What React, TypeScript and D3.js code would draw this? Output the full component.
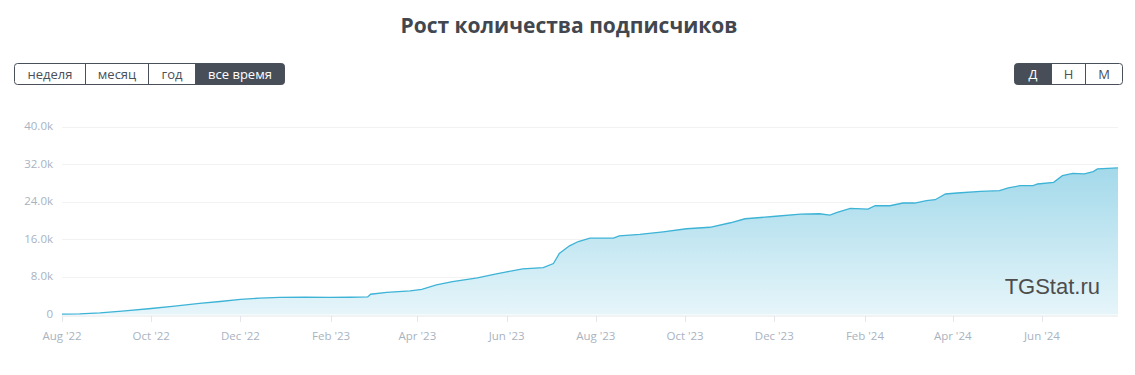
import { useEffect, useRef } from 'react';
import * as d3 from 'd3';

const DATES = [
  '2022-08-01', '2022-08-13', '2022-08-27', '2022-09-13', '2022-10-01', '2022-10-17', '2022-11-03',
  '2022-11-17', '2022-12-01', '2022-12-14', '2022-12-28', '2023-01-14', '2023-01-31', '2023-02-14',
  '2023-02-26', '2023-02-28', '2023-03-11', '2023-03-27', '2023-04-04', '2023-04-14', '2023-04-25',
  '2023-05-12', '2023-05-25', '2023-06-01', '2023-06-12', '2023-06-26', '2023-07-03', '2023-07-07',
  '2023-07-14', '2023-07-20', '2023-07-28', '2023-08-13', '2023-08-17', '2023-08-31', '2023-09-16',
  '2023-10-02', '2023-10-18', '2023-11-01', '2023-11-11', '2023-12-02', '2023-12-19', '2024-01-01',
  '2024-01-08', '2024-01-13', '2024-01-22', '2024-02-03', '2024-02-08', '2024-02-18', '2024-02-27',
  '2024-03-06', '2024-03-14', '2024-03-20', '2024-03-27', '2024-04-04', '2024-04-20', '2024-05-03',
  '2024-05-09', '2024-05-17', '2024-05-26', '2024-05-29', '2024-06-09', '2024-06-15', '2024-06-22',
  '2024-06-30', '2024-07-06', '2024-07-09', '2024-07-23',
];
const SUBSCRIBERS = [
  100, 150, 360, 750, 1280, 1800, 2350,
  2770, 3200, 3480, 3630, 3670, 3650, 3670,
  3730, 4310, 4690, 5010, 5330, 6290, 7000,
  7790, 8640, 9070, 9710, 9980, 10840, 12970,
  14610, 15530, 16250, 16250, 16740, 17060, 17600,
  18240, 18560, 19520, 20370, 20900, 21370, 21440,
  21160, 21710, 22570, 22440, 23140, 23140, 23720,
  23720, 24210, 24420, 25640, 25850, 26190, 26340,
  26920, 27410, 27410, 27770, 28110, 29540, 30030,
  29900, 30400, 30970, 31190,
];
const Y_TICKS = [0, 8000, 16000, 24000, 32000, 40000];
const X_TICKS = [
  '2022-08-01', '2022-10-01', '2022-12-01', '2023-02-01', '2023-04-01', '2023-06-01',
  '2023-08-01', '2023-10-01', '2023-12-01', '2024-02-01', '2024-04-01', '2024-06-01',
];
const PERIODS = ['неделя', 'месяц', 'год', 'все время'];
const GROUPINGS = ['Д', 'Н', 'М'];

const W = 1135;
const H = 375;
const FONT = '"Open Sans", Lato, sans-serif';

export default function App() {
  const svgRef = useRef<SVGSVGElement>(null);

  useEffect(() => {
    const svg = d3.select(svgRef.current!);
    svg.selectAll('*').remove();

    const parse = d3.utcParse('%Y-%m-%d');
    const data = DATES.map((d, i) => ({ date: parse(d)!, value: SUBSCRIBERS[i] }));

    const x = d3.scaleUtc()
      .domain([parse('2022-08-01')!, parse('2024-07-23')!])
      .range([62, 1118]);
    const y = d3.scaleLinear().domain([0, 40000]).range([314.5, 126.5]);

    // Title
    svg.append('text').attr('x', 569).attr('y', 33).attr('text-anchor', 'middle')
      .attr('font-family', FONT).attr('font-size', 21).attr('font-weight', 700)
      .attr('fill', '#42474f').text('Рост количества подписчиков');

    // Button groups
    const drawGroup = (labels: string[], widths: number[], x0: number, active: number) => {
      const g = svg.append('g');
      let cx = x0;
      const total = d3.sum(widths);
      g.append('rect').attr('x', x0 + 0.5).attr('y', 63.5).attr('width', total).attr('height', 21)
        .attr('rx', 3).attr('fill', '#fff').attr('stroke', '#4a5059');
      labels.forEach((l, i) => {
        if (i === active) {
          g.append('rect').attr('x', cx + 0.5).attr('y', 63.5).attr('width', widths[i]).attr('height', 21)
            .attr('rx', 3).attr('fill', '#484e58');
          // square off the inner side
          const sx = i === 0 ? cx + widths[i] - 3 : cx;
          g.append('rect').attr('x', sx + 0.5).attr('y', 63.5).attr('width', 3.5).attr('height', 21)
            .attr('fill', '#484e58');
        }
        if (i > 0) {
          g.append('line').attr('x1', cx + 0.5).attr('x2', cx + 0.5).attr('y1', 63.5).attr('y2', 84.5)
            .attr('stroke', '#4a5059');
        }
        g.append('text').attr('x', cx + widths[i] / 2 + 0.5).attr('y', 78.5).attr('text-anchor', 'middle')
          .attr('font-family', FONT).attr('font-size', 13)
          .attr('fill', i === active ? '#fff' : '#4a5059').text(l);
        cx += widths[i];
      });
    };
    drawGroup(PERIODS, [71, 63, 47, 89], 14, 3);
    drawGroup(GROUPINGS, [37, 34, 37], 1014, 0);

    // Grid
    svg.append('g').selectAll('line').data(Y_TICKS.slice(1)).join('line')
      .attr('x1', 62).attr('x2', 1118)
      .attr('y1', (d) => Math.round(y(d)) + 0.5).attr('y2', (d) => Math.round(y(d)) + 0.5)
      .attr('stroke', '#f2f2f2');

    svg.append('g').selectAll('text').data(Y_TICKS).join('text')
      .attr('x', 53).attr('y', (d) => y(d) + 3.5).attr('text-anchor', 'end')
      .attr('font-family', FONT).attr('font-size', 11.5).attr('fill', '#a9b3bf')
      .text((d) => (d === 0 ? '0' : `${(d / 1000).toFixed(1)}k`));

    // Area
    const defs = svg.append('defs');
    const grad = defs.append('linearGradient').attr('id', 'areaGrad')
      .attr('x1', 0).attr('y1', 0).attr('x2', 0).attr('y2', 1);
    grad.append('stop').attr('offset', '0%').attr('stop-color', '#a3d9ea');
    grad.append('stop').attr('offset', '100%').attr('stop-color', '#e6f5fa');

    svg.append('path').datum(data)
      .attr('fill', 'url(#areaGrad)')
      .attr('d', d3.area<{ date: Date; value: number }>()
        .x((d) => x(d.date)).y0(y(0)).y1((d) => y(d.value))(data) ?? '');

    svg.append('path').datum(data)
      .attr('fill', 'none').attr('stroke', '#3db3d6').attr('stroke-width', 1.3)
      .attr('d', d3.line<{ date: Date; value: number }>()
        .x((d) => x(d.date)).y((d) => y(d.value))(data) ?? '');

    // X axis
    svg.append('line').attr('x1', 62).attr('x2', 1118).attr('y1', 316).attr('y2', 316)
      .attr('stroke', '#e3e6ea');
    const xt = X_TICKS.map((t) => parse(t)!);
    svg.append('g').selectAll('line').data(xt).join('line')
      .attr('x1', (d) => Math.round(x(d)) + 0.5).attr('x2', (d) => Math.round(x(d)) + 0.5)
      .attr('y1', 316).attr('y2', 322).attr('stroke', '#e3e6ea');
    const fmt = d3.utcFormat("%b '%y");
    svg.append('g').selectAll('text').data(xt).join('text')
      .attr('x', (d) => x(d)).attr('y', 340).attr('text-anchor', 'middle')
      .attr('font-family', FONT).attr('font-size', 11.5).attr('fill', '#a9b3bf')
      .text((d) => fmt(d));

    // Watermark
    svg.append('text').attr('x', 1100).attr('y', 294).attr('text-anchor', 'end')
      .attr('font-family', '"Liberation Sans", Arial, sans-serif').attr('font-size', 22)
      .attr('fill', '#4d4d4d').text('TGStat.ru');
  }, []);

  return (
    <div style={{ position: 'absolute', left: 0, top: 0 }}>
      <svg ref={svgRef} width={W} height={H} style={{ display: 'block' }} />
    </div>
  );
}
